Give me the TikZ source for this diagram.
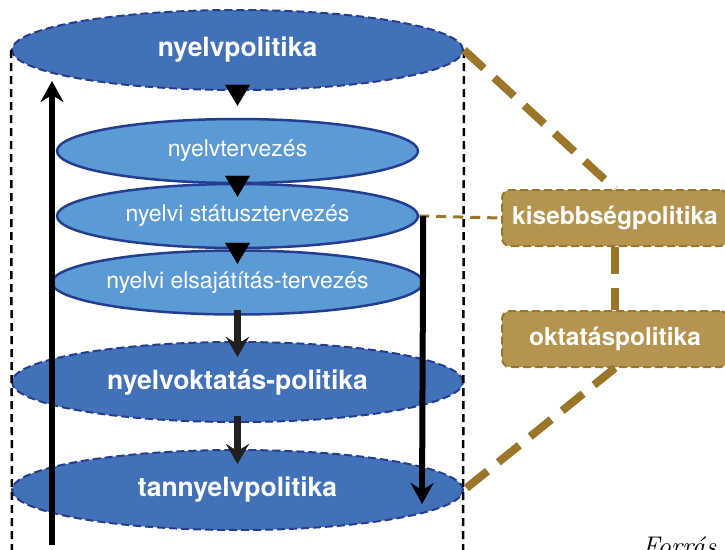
\documentclass[tikz,border=0pt]{standalone}
\definecolor{polblue}{RGB}{66, 113, 184}
\definecolor{planblue}{RGB}{91, 155, 213}
\definecolor{edgeblue}{RGB}{35, 62, 145}
\definecolor{boxbrown}{RGB}{180, 148, 78}
\definecolor{linebrown}{RGB}{155, 118, 42}
\definecolor{flowgray}{RGB}{35, 31, 32}
\usepackage{fontspec}
\setsansfont{TeX Gyre Heros}
\usepackage{tikz}
\usetikzlibrary{shapes, arrows.meta, positioning, calc}

\begin{document}
\begin{tikzpicture}[x=1pt, y=-1pt,
  bigdisc/.style={ellipse, draw=edgeblue, line width=2pt, dash pattern=on 8pt off 4pt, fill=polblue,
    minimum width=451pt, minimum height=80pt, inner sep=0pt, text=white,
    font=\sffamily\bfseries\fontsize{26.5}{30}\selectfont},
  smalldisc/.style={ellipse, draw=edgeblue, line width=2.5pt, fill=planblue,
    minimum width=361pt, minimum height=64pt, inner sep=0pt, text=white,
    font=\sffamily\fontsize{23}{27}\selectfont},
  policybox/.style={draw=linebrown, line width=2pt, dash pattern=on 8pt off 4pt, fill=boxbrown,
    rounded corners=8pt, minimum width=226pt, minimum height=56pt, inner sep=0pt, text=white,
    font=\sffamily\bfseries\fontsize{24.5}{28}\selectfont},
  rim/.style={line width=2.5pt, dash pattern=on 8pt off 5pt},
  stepdown/.style={line width=0.1pt, -{Triangle[length=21pt, width=25pt]}},
  flow/.style={flowgray, line width=6.5pt, -{Stealth[length=20pt, width=23pt, inset=7pt]}},
  cycle/.style={line width=6pt, -{Stealth[length=21pt, width=23pt, inset=7pt]}},
  thicklink/.style={linebrown, line width=8pt, dash pattern=on 27pt off 14pt},
  thinlink/.style={linebrown, line width=3pt, dash pattern=on 10pt off 7pt}]
  \useasboundingbox (0,0) rectangle (725,549);

  % Policy levels
  \node[bigdisc] (np) at (237.5, 50) {nyelvpolitika};
  \node[smalldisc] (nt) at (237.5, 151) {nyelvtervezés};
  \node[smalldisc] (ns) at (237.5, 216) {nyelvi státusztervezés};
  \node[smalldisc] (nes) at (237.5, 282.5) {nyelvi elsajátítás-tervezés};
  \node[bigdisc] (no) at (237.5, 382) {nyelvoktatás-politika};
  \node[bigdisc] (tn) at (237.5, 490) {tannyelvpolitika};

  % Cylinder sides
  \coordinate (rimL) at (12, 560);
  \coordinate (rimR) at (463, 560);
  \draw[rim] (np.west) -- (rimL);
  \draw[rim] (np.east) -- (rimR);

  % Neighbouring policies
  \node[policybox] (kb) at (615, 218) {kisebbségpolitika};
  \node[policybox] (ob) at (615, 339) {oktatáspolitika};

  \draw[thinlink] (ns.east) -- (kb.west);
  \draw[thicklink] (np.east) -- (kb.north);
  \draw[thicklink] (kb.south) -- (ob.north);
  \draw[thicklink] (ob.south) -- (tn.east);

  % Steps between the levels
  \draw[stepdown] (np.south) -- ([yshift=12pt]nt.north);
  \draw[stepdown] (nt.south) -- ([yshift=-14pt]ns.north);
  \draw[stepdown] (ns.south) -- ([yshift=-14.5pt]nes.north);
  \draw[flow] ([yshift=6pt]nes.south) -- ([yshift=-16pt]no.north);
  \draw[flow] ([yshift=7pt]no.south) -- ([yshift=-15pt]tn.north);

  % Feedback loop
  \coordinate (upfoot) at (52, 545);
  \coordinate (uphead) at (52, 81);
  \draw[cycle] (upfoot) -- (uphead);
  \coordinate (downtop) at ($(ns.east)+(4,0)$);
  \coordinate (downend) at (422, 504);
  \draw[cycle] (downtop) -- (downend);

  % Source
  \node[anchor=base west, inner sep=0pt, font=\itshape\fontsize{27}{30}\selectfont] (src) at (642, 555) {Forrás};
\end{tikzpicture}
\end{document}
